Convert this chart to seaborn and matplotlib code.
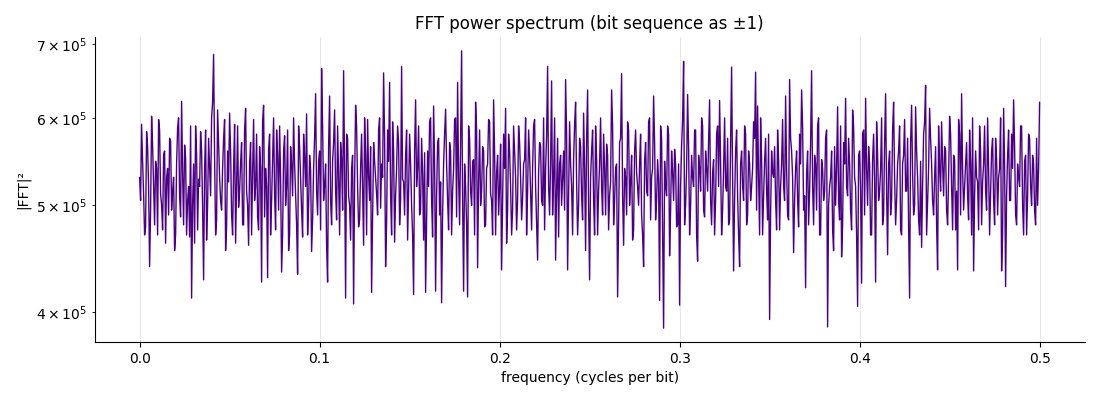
import numpy as np
import matplotlib
matplotlib.use("Agg")
import matplotlib.pyplot as plt
import seaborn as sns

# |FFT|^2 values, in thousands (even frequency bins)
power_even_k = [
    530, 592, 512, 478, 565, 440, 602, 520, 548, 470, 585, 500, 556, 462, 540,
    575, 495, 530, 470, 588, 510, 621, 480, 552, 505, 468, 412, 545, 590, 475,
    520, 560, 428, 585, 500, 540, 600, 685, 470, 610, 530, 495, 575, 455, 560,
    606, 490, 540, 462, 590, 515, 570, 480, 612, 500, 545, 470, 598, 520, 488,
    565, 426, 616, 540, 430, 580, 505, 600, 475, 555, 590, 435, 560, 500, 585,
    470, 545, 600, 510, 433, 565, 495, 580, 520, 470, 555, 454, 540, 631, 490,
    560, 665, 505, 545, 426, 628, 480, 570, 515, 590, 470, 550, 662, 412, 575,
    500, 540, 407, 616, 520, 485, 580, 460, 555, 598, 505, 417, 570, 530, 490,
    600, 545, 659, 440, 585, 646, 470, 560, 510, 590, 480, 668, 525, 555, 465,
    580, 500, 415, 623, 540, 490, 575, 465, 417, 560, 595, 505, 615, 418, 570,
    490, 408, 545, 611, 505, 570, 470, 540, 600, 646, 480, 690, 418, 520, 413,
    575, 500, 550, 620, 439, 585, 515, 560, 480, 545, 595, 505, 623, 470, 555,
    520, 437, 580, 612, 495, 560, 470, 590, 530, 505, 570, 485, 545, 600, 515,
    555, 475, 590, 520, 446, 570, 505, 600, 540, 668, 490, 648, 530, 446, 575,
    545, 500, 560, 650, 437, 595, 520, 550, 620, 470, 575, 510, 606, 455, 636,
    428, 560, 505, 590, 470, 545, 520, 580, 490, 555, 510, 636, 480, 540, 413,
    570, 658, 460, 530, 595, 500, 555, 475, 585, 520, 545, 490, 440, 570, 510,
    600, 530, 628, 485, 550, 410, 575, 387, 520, 590, 450, 560, 505, 545, 480,
    406, 565, 675, 500, 630, 470, 555, 520, 585, 445, 540, 600, 495, 560, 515,
    623, 480, 550, 505, 590, 622, 470, 540, 520, 575, 485, 667, 436, 560, 510,
    440, 560, 505, 580, 490, 545, 520, 595, 660, 615, 470, 550, 510, 575, 485,
    394, 560, 530, 505, 585, 475, 545, 520, 628, 490, 650, 560, 453, 540, 505,
    580, 636, 495, 421, 560, 515, 662, 480, 545, 590, 470, 550, 505, 575, 388,
    520, 560, 455, 500, 614, 485, 449, 570, 625, 510, 545, 475, 590, 520, 405,
    560, 425, 585, 625, 500, 545, 470, 580, 426, 555, 515, 600, 490, 631, 451,
    560, 505, 620, 480, 545, 590, 470, 555, 515, 575, 412, 616, 490, 614, 530,
    470, 458, 580, 642, 505, 612, 545, 490, 565, 437, 540, 595, 510, 560, 480,
    602, 520, 555, 475, 437, 580, 631, 495, 545, 510, 585, 470, 436, 560, 525,
    590, 480, 545, 515, 600, 470, 560, 505, 575, 490, 540, 436, 612, 422, 555,
    505, 580, 623, 490, 545, 520, 590, 470, 555, 510, 575, 500, 545, 480, 500,
    620,
]

# |FFT|^2 values, in thousands (odd frequency bins)
power_odd_k = [
    505, 548, 470, 583, 520, 495, 566, 480, 540, 598, 512, 475, 560, 530, 490,
    572, 515, 455, 545, 600, 488, 535, 567, 470, 520, 590, 500, 462, 556, 528,
    583, 497, 540, 465, 575, 510, 620, 552, 485, 568, 505, 540, 598, 478, 525,
    560, 470, 592, 525, 498, 547, 480, 585, 515, 460, 570, 535, 505, 580, 475,
    540, 596, 488, 520, 562, 470, 548, 512, 585, 495, 530, 470, 578, 520, 455,
    565, 510, 545, 480, 590, 527, 468, 552, 605, 500, 538, 485, 575, 515, 548,
    475, 590, 522, 460, 565, 505, 548, 610, 485, 530, 570, 495, 540, 580, 510,
    465, 555, 525, 590, 478, 540, 515, 600, 470, 532, 565, 490, 548, 512, 585,
    497, 530, 575, 480, 548, 510, 595, 463, 540, 570, 505, 528, 490, 585, 515,
    545, 470, 560, 520, 590, 495, 535, 558, 480, 520, 600, 468, 545, 510, 575,
    525, 490, 580, 545, 475, 560, 515, 598, 488, 530, 570, 505, 545, 480, 590,
    515, 548, 470, 585, 525, 500, 565, 478, 540, 598, 512, 470, 558, 535, 490,
    568, 505, 540, 462, 580, 520, 495, 560, 475, 590, 530, 508, 550, 470, 585,
    512, 540, 598, 480, 535, 565, 500, 475, 578, 520, 548, 490, 600, 515, 468,
    555, 530, 495, 580, 510, 545, 470, 592, 525, 500, 565, 485, 540, 575, 498,
    530, 585, 470, 550, 515, 600, 490, 540, 568, 475, 525, 590, 505, 545, 480,
    575, 510, 540, 490, 585, 525, 465, 560, 535, 500, 580, 470, 548, 515, 595,
    485, 540, 570, 505, 525, 590, 470, 548, 510, 580, 495, 535, 562, 478, 545,
    520, 598, 480, 540, 565, 500, 530, 585, 470, 555, 515, 590, 488, 540, 572,
    505, 535, 470, 580, 520, 548, 495, 600, 515, 480, 565, 530, 505, 585, 470,
    545, 520, 590, 480, 560, 505, 540, 575, 495, 530, 600, 470, 548, 515, 580,
    490, 535, 565, 475, 550, 520, 598, 505, 540, 485, 575, 530, 505, 560, 478,
    545, 590, 510, 535, 480, 570, 520, 555, 495, 600, 470, 540, 515, 585, 500,
    530, 475, 565, 540, 505, 590, 480, 545, 520, 575, 495, 610, 530, 470, 555,
    515, 580, 490, 540, 565, 470, 550, 525, 595, 505, 538, 480, 570, 515, 545,
    490, 585, 530, 505, 560, 475, 545, 598, 515, 480, 570, 535, 500, 560, 485,
    548, 520, 595, 470, 540, 575, 505, 530, 480, 590, 515, 545, 565, 495, 530,
    580, 475, 550, 515, 598, 490, 540, 520, 570, 485, 545, 600, 510, 530, 475,
    560, 525, 590, 495, 540, 515, 575, 480, 550, 530, 600, 470, 545, 510, 585,
    505, 540, 565, 480, 530, 590, 500, 548, 470, 580, 520, 555, 495, 575, 540,
]

n_total = len(power_even_k) + len(power_odd_k)
power = np.empty(n_total, dtype=float)
power[0::2] = np.array(power_even_k, dtype=float) * 1000.0
power[1::2] = np.array(power_odd_k, dtype=float) * 1000.0
freq = np.linspace(0.0, 0.5, n_total)

sns.set_style("ticks")
plt.rcParams["font.family"] = ["DejaVu Sans"]
for key in ["text.color", "axes.labelcolor", "xtick.color", "ytick.color", "axes.edgecolor"]:
    plt.rcParams[key] = "black"

fig = plt.figure(figsize=(11, 4), dpi=100)
ax = fig.add_axes([0.086, 0.145, 0.9, 0.7625])

sns.lineplot(x=freq, y=power, ax=ax, color="#4B0082", linewidth=1.0)
ax.set_yscale("log")
ax.grid(axis="x", color="#e6e6e6", linewidth=0.8)
ax.grid(axis="y", visible=False, which="both")
ax.set_axisbelow(True)

ax.set_title("FFT power spectrum (bit sequence as ±1)", fontsize=12)
ax.set_xlabel("frequency (cycles per bit)", fontsize=10)
ax.set_ylabel("|FFT|²", fontsize=10)
sns.despine(ax=ax)

fig.savefig("out.png", dpi=100)
